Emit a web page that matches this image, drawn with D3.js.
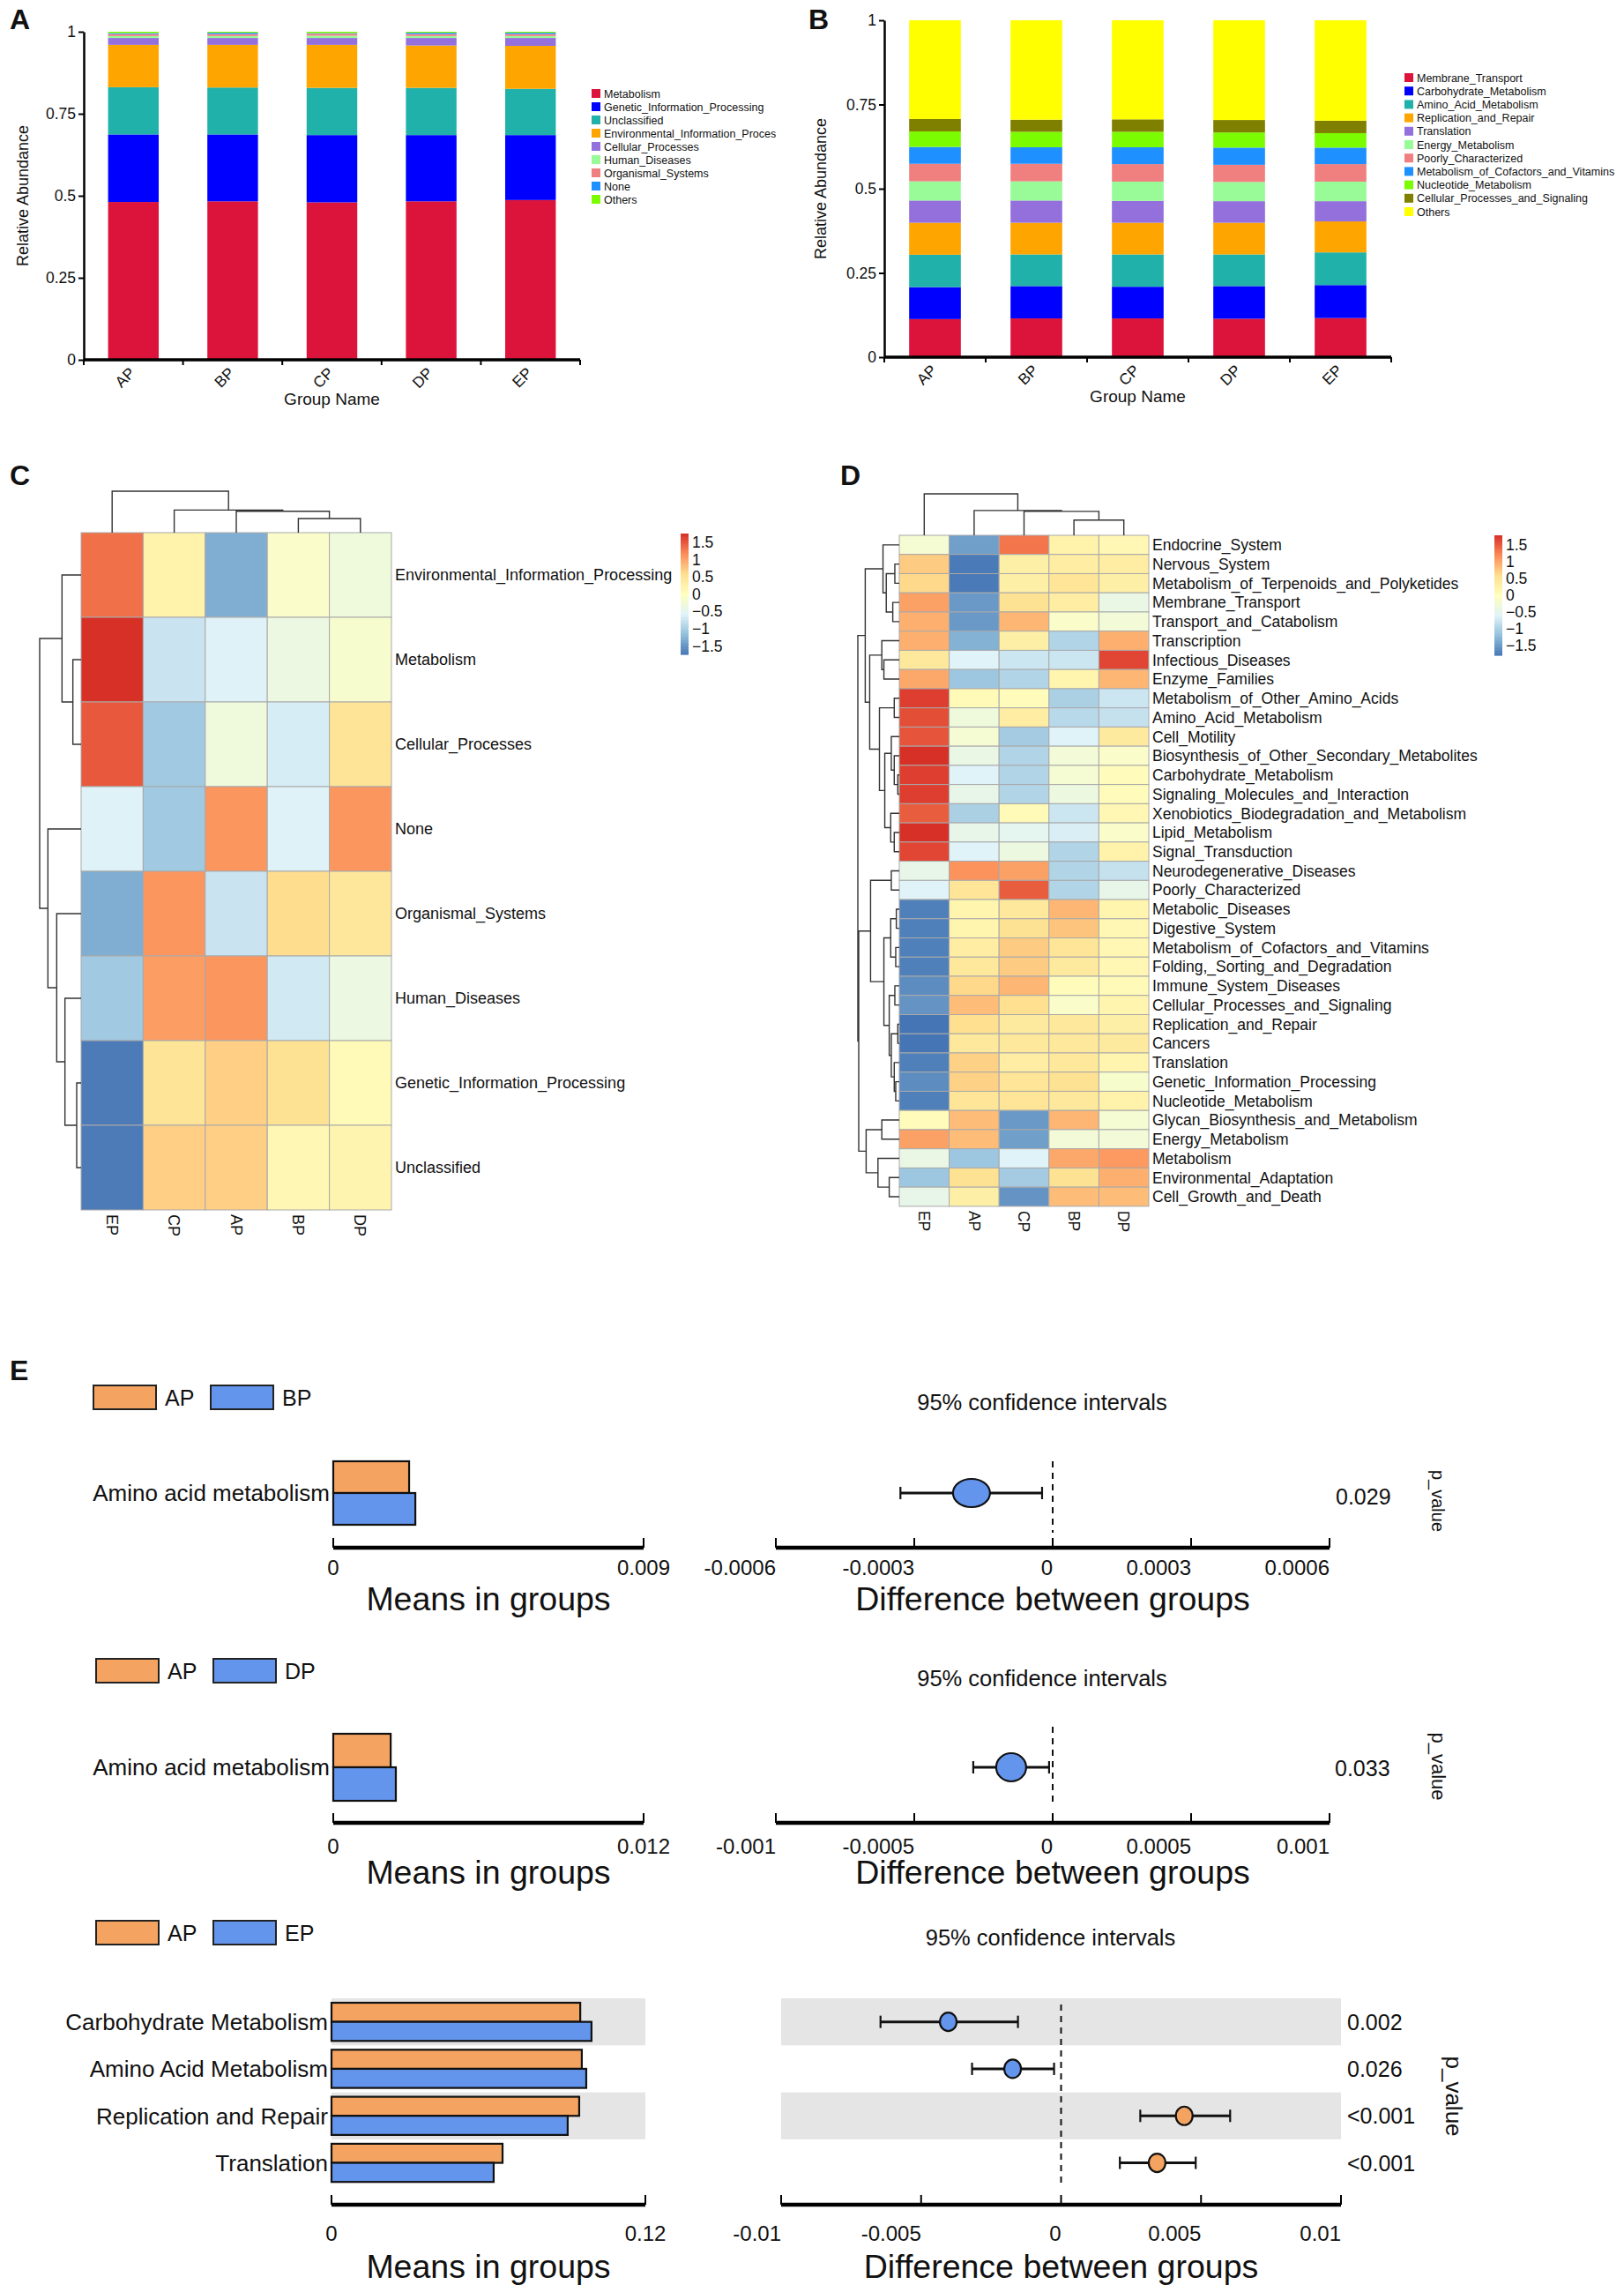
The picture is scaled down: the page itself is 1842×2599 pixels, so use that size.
<!DOCTYPE html>
<html>
<head>
<meta charset="utf-8">
<script src="https://cdn.jsdelivr.net/npm/d3@7"></script>
<style>
body { margin: 0; background: #fff; }
text { font-family: "Liberation Sans", Arial, sans-serif; fill: #111; }
</style>
</head>
<body>
<svg id="fig" width="1842" height="2599"></svg>
<script>
// ---------- data ----------
var groups = ["AP", "BP", "CP", "DP", "EP"];
var yTicks = [0, 0.25, 0.5, 0.75, 1];

// panel A : level 1 KEGG, rows = categories, columns = AP..EP
var catsA = ["Metabolism", "Genetic_Information_Processing", "Unclassified",
  "Environmental_Information_Processing", "Cellular_Processes", "Human_Diseases",
  "Organismal_Systems", "None", "Others"];
var abundA = [
  [0.481, 0.483, 0.480, 0.483, 0.487],
  [0.206, 0.204, 0.205, 0.202, 0.198],
  [0.144, 0.143, 0.144, 0.144, 0.141],
  [0.129, 0.130, 0.131, 0.129, 0.131],
  [0.021, 0.021, 0.021, 0.023, 0.024],
  [0.006, 0.006, 0.007, 0.006, 0.006],
  [0.006, 0.006, 0.006, 0.006, 0.006],
  [0.003, 0.004, 0.002, 0.004, 0.004],
  [0.004, 0.003, 0.004, 0.003, 0.003]
];
var colorsA = ["#DC143C", "#0000FF", "#20B2AA", "#FFA500", "#9370DB", "#98FB98", "#F08080", "#1E90FF", "#7CFC00"];

// panel B : level 2 KEGG
var catsB = ["Membrane_Transport", "Carbohydrate_Metabolism", "Amino_Acid_Metabolism",
  "Replication_and_Repair", "Translation", "Energy_Metabolism", "Poorly_Characterized",
  "Metabolism_of_Cofactors_and_Vitamins", "Nucleotide_Metabolism",
  "Cellular_Processes_and_Signaling", "Others"];
var abundB = [
  [0.113, 0.115, 0.115, 0.114, 0.116],
  [0.095, 0.096, 0.094, 0.097, 0.098],
  [0.096, 0.094, 0.096, 0.094, 0.097],
  [0.095, 0.094, 0.094, 0.094, 0.092],
  [0.066, 0.066, 0.065, 0.064, 0.060],
  [0.057, 0.057, 0.057, 0.057, 0.058],
  [0.052, 0.052, 0.052, 0.051, 0.052],
  [0.050, 0.049, 0.050, 0.051, 0.049],
  [0.046, 0.046, 0.046, 0.045, 0.043],
  [0.037, 0.036, 0.037, 0.037, 0.037],
  [0.293, 0.295, 0.294, 0.296, 0.298]
];
var colorsB = ["#DC143C", "#0000FF", "#20B2AA", "#FFA500", "#9370DB", "#98FB98", "#F08080", "#1E90FF", "#7CFC00", "#808000", "#FFFF00"];

// panel C : heatmap level 1 (row z-scores)
var colsC = ["EP", "CP", "AP", "BP", "DP"];
var rowsC = ["Environmental_Information_Processing", "Metabolism", "Cellular_Processes", "None",
  "Organismal_Systems", "Human_Diseases", "Genetic_Information_Processing", "Unclassified"];
var zC = [
  [1.35, 0.25, -1.3, -0.1, -0.3],
  [1.75, -0.75, -0.6, -0.35, -0.15],
  [1.5, -1.05, -0.3, -0.65, 0.5],
  [-0.6, -1.05, 1.1, -0.6, 1.1],
  [-1.3, 1.1, -0.75, 0.6, 0.45],
  [-1.05, 1.05, 1.1, -0.7, -0.35],
  [-1.7, 0.5, 0.7, 0.55, 0.1],
  [-1.7, 0.7, 0.7, 0.15, 0.2]
];
// dendrograms as [height, left, right], leaves are indices
var rowTreeC = [141, [65, 0, [28, 1, 2]], [113, 3, [83, 4, [55, 5, [15, 6, 7]]]]];
var colTreeC = [132, 0, [72, 1, [68, 2, [45, 3, 4]]]];

// panel D : heatmap level 2
var colsD = ["EP", "AP", "CP", "BP", "DP"];
var rowsD = ["Endocrine_System", "Nervous_System", "Metabolism_of_Terpenoids_and_Polyketides",
  "Membrane_Transport", "Transport_and_Catabolism", "Transcription", "Infectious_Diseases",
  "Enzyme_Families", "Metabolism_of_Other_Amino_Acids", "Amino_Acid_Metabolism", "Cell_Motility",
  "Biosynthesis_of_Other_Secondary_Metabolites", "Carbohydrate_Metabolism",
  "Signaling_Molecules_and_Interaction", "Xenobiotics_Biodegradation_and_Metabolism",
  "Lipid_Metabolism", "Signal_Transduction", "Neurodegenerative_Diseases", "Poorly_Characterized",
  "Metabolic_Diseases", "Digestive_System", "Metabolism_of_Cofactors_and_Vitamins",
  "Folding,_Sorting_and_Degradation", "Immune_System_Diseases", "Cellular_Processes_and_Signaling",
  "Replication_and_Repair", "Cancers", "Translation", "Genetic_Information_Processing",
  "Nucleotide_Metabolism", "Glycan_Biosynthesis_and_Metabolism", "Energy_Metabolism",
  "Metabolism", "Environmental_Adaptation", "Cell_Growth_and_Death"];
var zD = [
  [-0.2, -1.45, 1.35, 0.25, 0.15],
  [0.75, -1.75, 0.3, 0.35, 0.35],
  [0.65, -1.75, 0.3, 0.5, 0.3],
  [1.05, -1.5, 0.55, 0.35, -0.4],
  [0.95, -1.5, 0.9, -0.1, -0.25],
  [0.95, -1.3, 0.3, -0.95, 0.95],
  [0.45, -0.6, -0.75, -0.75, 1.65],
  [1.0, -1.1, -0.95, 0.2, 0.9],
  [1.7, 0.1, 0.05, -1.0, -0.75],
  [1.6, -0.3, 0.35, -0.9, -0.8],
  [1.55, -0.2, -1.05, -0.6, 0.4],
  [1.8, -0.4, -0.95, -0.25, -0.1],
  [1.7, -0.6, -0.95, -0.2, 0.05],
  [1.7, -0.45, -0.95, -0.35, 0.05],
  [1.5, -1.0, 0.1, -0.75, 0.15],
  [1.8, -0.45, -0.5, -0.65, -0.1],
  [1.65, -0.6, -0.35, -0.95, 0.25],
  [-0.45, 1.15, 1.05, -0.95, -0.8],
  [-0.6, 0.5, 1.5, -0.95, -0.45],
  [-1.7, 0.2, 0.45, 0.9, 0.2],
  [-1.7, 0.2, 0.55, 0.8, 0.15],
  [-1.7, 0.35, 0.75, 0.5, 0.15],
  [-1.7, 0.45, 0.75, 0.4, 0.15],
  [-1.6, 0.65, 0.9, 0.05, 0.1],
  [-1.55, 0.85, 0.6, -0.1, 0.2],
  [-1.8, 0.6, 0.4, 0.45, 0.3],
  [-1.8, 0.45, 0.45, 0.45, 0.4],
  [-1.7, 0.7, 0.35, 0.45, 0.2],
  [-1.6, 0.7, 0.5, 0.55, -0.15],
  [-1.7, 0.5, 0.5, 0.45, 0.25],
  [0.05, 0.85, -1.5, 0.9, -0.2],
  [1.05, 0.85, -1.45, -0.25, -0.25],
  [-0.4, -1.1, -0.6, 1.0, 1.1],
  [-1.1, 0.55, -1.05, 0.55, 0.95],
  [-0.45, 0.3, -1.55, 0.85, 0.85]
];
var rowTreeD = [140,
  [115,
    [55, 0, [44, [15, 1, 2], [22, 3, 4]]],
    [100,
      [59, 5, [52, 6, 7]],
      [67, [17, 8, 9], [49, [27, 10, [17, 11, [5, 12, 13]]], [29, 14, [17, 15, 16]]]]]],
  [137,
    [97,
      [27, 17, 18],
      [52,
        [29, [10, 19, 20], [12, 21, 22]],
        [34, [15, 23, 24], [27, [5, 25, 26], [17, 27, [12, 28, 29]]]]]],
    [112, [59, 30, 31], [72, 32, [34, 33, 34]]]]];
var colTreeD = [142, 0, [85, 1, [82, 2, [52, 3, 4]]]];

var heatTicks = [1.5, 1, 0.5, 0, -0.5, -1, -1.5];
var heatPalette = ["#4575B4", "#91BFDB", "#E0F3F8", "#FFFFBF", "#FEE090", "#FC8D59", "#D73027"];

// panel E : STAMP comparisons
var orange = "#F4A460", blue = "#6495ED";
var e1Feat = ["Amino acid metabolism"], e1A = [0.0022], e1B = [0.00238];
var e1Diff = [-0.000176], e1Lo = [-0.00033], e1Hi = [-0.000023], e1P = ["0.029"];
var e1DiffTicks = [-0.0006, -0.0003, 0, 0.0003, 0.0006];

var e2Feat = ["Amino acid metabolism"], e2A = [0.00222], e2B = [0.00242];
var e2Diff = [-0.00015], e2Lo = [-0.000287], e2Hi = [-0.000013], e2P = ["0.033"];
var e2DiffTicks = [-0.001, -0.0005, 0, 0.0005, 0.001];

var e3Feat = ["Carbohydrate Metabolism", "Amino Acid Metabolism", "Replication and Repair", "Translation"];
var e3A = [0.0951, 0.0957, 0.0947, 0.0654];
var e3B = [0.0994, 0.0974, 0.0903, 0.0620];
var e3Diff = [-0.00403, -0.00173, 0.0044, 0.00343];
var e3Lo = [-0.00645, -0.00318, 0.00283, 0.0021];
var e3Hi = [-0.00154, -0.00025, 0.00604, 0.00481];
var e3P = ["0.002", "0.026", "<0.001", "<0.001"];
var e3DiffTicks = [-0.01, -0.005, 0, 0.005, 0.01];

// ---------- drawing ----------
var svg = d3.select("#fig");
svg.append("rect").attr("width", 1842).attr("height", 2599).attr("fill", "#fff");

var letter = function(t, x, y) {
  svg.append("text").attr("x", x).attr("y", y).attr("font-size", 32)
     .attr("font-weight", "bold").text(t);
}
letter("A", 11, 33); letter("B", 917, 33); letter("C", 11, 550); letter("D", 953, 550); letter("E", 11, 1565);

// stacked relative abundance bars
var stackPanel = function(cats, rows, colors, o) {
  var g = svg.append("g");
  var table = groups.map(function(gn, j) {
    var r = { group: gn };
    cats.forEach(function(c, i) { r[c] = rows[i][j]; });
    return r;
  });
  var series = d3.stack().keys(cats)(table);
  var x = d3.scaleBand().domain(groups).range([o.x0, o.x1]).paddingInner(0.49).paddingOuter(0.245);
  var y = d3.scaleLinear().domain([0, 1]).range([o.yb, o.yt]);

  g.selectAll("g.ser").data(series).enter().append("g")
    .attr("fill", function(d, i) { return colors[i]; })
    .selectAll("rect").data(function(d) { return d; }).enter().append("rect")
    .attr("x", function(d) { return x(d.data.group); })
    .attr("width", x.bandwidth())
    .attr("y", function(d) { return y(d[1]); })
    .attr("height", function(d) { return y(d[0]) - y(d[1]); });

  // y axis
  var ya = g.append("g").attr("transform", "translate(" + o.x0 + ",0)")
    .call(d3.axisLeft(y).tickValues(yTicks).tickFormat(d3.format("")).tickSize(6).tickSizeOuter(0));
  ya.select(".domain").attr("stroke-width", 2.5);
  ya.selectAll(".tick line").attr("stroke-width", 2);
  ya.selectAll(".tick text").attr("font-size", 17.5).attr("font-family", "Liberation Sans").attr("fill", "#111");

  // x axis with ticks at band boundaries
  g.append("line").attr("x1", o.x0).attr("x2", o.x1).attr("y1", o.yb).attr("y2", o.yb)
    .attr("stroke", "#000").attr("stroke-width", 3.5);
  g.selectAll("line.xt").data(d3.range(groups.length + 1)).enter().append("line")
    .attr("x1", function(i) { return o.x0 + i * x.step(); })
    .attr("x2", function(i) { return o.x0 + i * x.step(); })
    .attr("y1", o.yb).attr("y2", o.yb + 6).attr("stroke", "#000").attr("stroke-width", 2);
  g.selectAll("text.xl").data(groups).enter().append("text")
    .attr("transform", function(d) {
      return "translate(" + (x(d) + x.bandwidth() / 2 + 3) + "," + (o.yb + 16) + ") rotate(-45)";
    })
    .attr("text-anchor", "end").attr("font-size", 17.5).text(function(d) { return d; });

  g.append("text").attr("x", (o.x0 + o.x1) / 2).attr("y", o.yb + 51)
    .attr("text-anchor", "middle").attr("font-size", 19).text("Group Name");
  g.append("text").attr("transform", "translate(" + o.ylabX + "," + ((o.yb + o.yt) / 2) + ") rotate(-90)")
    .attr("text-anchor", "middle").attr("font-size", 18).text("Relative Abundance");

  // legend
  var lg = g.append("g");
  if (o.clip) {
    svg.append("clipPath").attr("id", o.clip).append("rect")
      .attr("x", o.legX).attr("y", 0).attr("width", o.clipW).attr("height", 480);
    lg.attr("clip-path", "url(#" + o.clip + ")");
  }
  var items = lg.selectAll("g").data(cats).enter().append("g")
    .attr("transform", function(d, i) { return "translate(" + o.legX + "," + (o.legY + i * o.legStep) + ")"; });
  items.append("rect").attr("x", 0).attr("y", -5).attr("width", 10).attr("height", 10)
    .attr("fill", function(d, i) { return colors[i]; });
  items.append("text").attr("x", 14).attr("y", 4.5).attr("font-size", 12.5).text(function(d) { return d; });
}

stackPanel(catsA, abundA, colorsA, { x0: 95, x1: 658, yb: 408, yt: 36, ylabX: 32,
  legX: 671, legY: 106, legStep: 15, clip: "clipA", clipW: 209 });
stackPanel(catsB, abundB, colorsB, { x0: 1003, x1: 1578, yb: 405, yt: 23, ylabX: 937,
  legX: 1593, legY: 88, legStep: 15.2 });

// clustered heatmap with dendrograms and colour key
var heatPanel = function(rows, cols, z, rowTree, colTree, o) {
  var g = svg.append("g");
  var x = d3.scaleBand().domain(d3.range(cols.length)).range([o.x0, o.x0 + o.cw * cols.length]);
  var y = d3.scaleBand().domain(d3.range(rows.length)).range([o.y0, o.y0 + o.rh * rows.length]);
  var dom = d3.range(7).map(function(i) { return -o.ext + i * o.ext / 3; });
  var color = d3.scaleLinear().domain(dom).range(heatPalette).clamp(true);

  z.forEach(function(row, i) {
    g.selectAll(null).data(row).enter().append("rect")
      .attr("x", function(d, j) { return x(j); }).attr("y", y(i))
      .attr("width", x.bandwidth()).attr("height", y.bandwidth())
      .attr("fill", function(d) { return color(d); })
      .attr("stroke", "#a9a9a9").attr("stroke-width", 1);
  });

  g.selectAll("text.rl").data(rows).enter().append("text")
    .attr("x", x.range()[1] + 4).attr("y", function(d, i) { return y(i) + y.bandwidth() / 2; })
    .attr("dy", "0.36em").attr("font-size", o.fs).text(function(d) { return d; });
  g.selectAll("text.cl").data(cols).enter().append("text")
    .attr("transform", function(d, j) {
      return "translate(" + (x(j) + x.bandwidth() / 2) + "," + (y.range()[1] + 5) + ") rotate(90)";
    })
    .attr("dy", "0.36em").attr("font-size", o.fs).text(function(d) { return d; });

  // row dendrogram (grows to the left)
  var hr = d3.scaleLinear().domain([0, rowTree[0]]).range([o.x0, o.x0 - o.dw]);
  var path = d3.path();
  var walkRow = function(n) {
    if (typeof n === "number") return { p: y(n) + y.bandwidth() / 2, h: 0 };
    var a = walkRow(n[1]), b = walkRow(n[2]), xn = hr(n[0]);
    path.moveTo(hr(a.h), a.p); path.lineTo(xn, a.p); path.lineTo(xn, b.p); path.lineTo(hr(b.h), b.p);
    return { p: (a.p + b.p) / 2, h: n[0] };
  };
  walkRow(rowTree);
  // column dendrogram (grows upwards)
  var hc = d3.scaleLinear().domain([0, colTree[0]]).range([o.y0, o.y0 - o.dh]);
  var walkCol = function(n) {
    if (typeof n === "number") return { p: x(n) + x.bandwidth() / 2, h: 0 };
    var a = walkCol(n[1]), b = walkCol(n[2]), yn = hc(n[0]);
    path.moveTo(a.p, hc(a.h)); path.lineTo(a.p, yn); path.lineTo(b.p, yn); path.lineTo(b.p, hc(b.h));
    return { p: (a.p + b.p) / 2, h: n[0] };
  };
  walkCol(colTree);
  g.append("path").attr("d", path.toString()).attr("fill", "none")
    .attr("stroke", "#333").attr("stroke-width", 1.4);

  // colour key
  var ky = d3.scaleLinear().domain([-o.ext, o.ext]).range([o.ky1, o.ky0]);
  var steps = d3.range(100).map(function(i) { return -o.ext + (i + 0.5) * 2 * o.ext / 100; });
  g.selectAll("rect.key").data(steps).enter().append("rect")
    .attr("x", o.kx).attr("width", o.kw)
    .attr("y", function(d) { return ky(d + o.ext / 100); })
    .attr("height", (o.ky1 - o.ky0) / 100 + 0.6)
    .attr("fill", function(d) { return color(d); });
  g.selectAll("text.key").data(heatTicks).enter().append("text")
    .attr("x", o.kx + o.kw + 4).attr("y", function(d) { return ky(d); })
    .attr("dy", "0.36em").attr("font-size", 17.5).text(d3.format(""));
}

heatPanel(rowsC, colsC, zC, rowTreeC, colTreeC, { x0: 92, y0: 604, cw: 70.4, rh: 96,
  dw: 47, dh: 47, ext: 1.75, fs: 18, kx: 772, kw: 9, ky0: 605, ky1: 742 });
heatPanel(rowsD, colsD, zD, rowTreeD, colTreeD, { x0: 1020, y0: 607, cw: 56.6, rh: 21.74,
  dw: 47, dh: 47, ext: 1.79, fs: 17.5, kx: 1695, kw: 9, ky0: 607, ky1: 743 });

// extended error bar plot
var ePanel = function(feat, mA, mB, diff, lo, hi, pv, o) {
  var g = svg.append("g");
  var mx = d3.scaleLinear().domain([0, o.meanMax]).range(o.mRange);
  var dx = d3.scaleLinear().domain([o.dTicks[0], o.dTicks[o.dTicks.length - 1]]).range(o.dRange);
  var yr = d3.scaleBand().domain(d3.range(feat.length)).range([o.rowTop, o.rowTop + o.rowH * feat.length]);
  var yEnd = yr.range()[1];

  // legend
  [[orange, "AP"], [blue, o.nameB]].forEach(function(it, i) {
    g.append("rect").attr("x", o.legX + i * 133).attr("y", o.legY).attr("width", 71).attr("height", 27)
      .attr("fill", it[0]).attr("stroke", "#222").attr("stroke-width", 2);
    g.append("text").attr("x", o.legX + i * 133 + 81).attr("y", o.legY + 23).attr("font-size", 25).text(it[1]);
  });
  g.append("text").attr("x", (o.dRange[0] + o.dRange[1]) / 2 - 12).attr("y", o.titleY)
    .attr("text-anchor", "middle").attr("font-size", 25.5).text("95% confidence intervals");

  // alternating grey bands
  if (o.bands) {
    feat.forEach(function(f, i) {
      if (i % 2) return;
      [o.mRange, o.dRange].forEach(function(r) {
        g.append("rect").attr("x", r[0]).attr("y", yr(i)).attr("width", r[1] - r[0])
          .attr("height", yr.bandwidth()).attr("fill", "#E5E5E5");
      });
    });
  }

  // mean bars
  var bh = (yr.bandwidth() - 2 * o.pad) / 2;
  feat.forEach(function(f, i) {
    [[mA[i], orange], [mB[i], blue]].forEach(function(b, k) {
      g.append("rect").attr("x", mx(0)).attr("y", yr(i) + o.pad + k * bh)
        .attr("width", mx(b[0]) - mx(0)).attr("height", bh)
        .attr("fill", b[1]).attr("stroke", "#111").attr("stroke-width", 2.2);
    });
    g.append("text").attr("x", mx(0) - 4).attr("y", yr(i) + yr.bandwidth() / 2)
      .attr("dy", "0.36em").attr("text-anchor", "end").attr("font-size", 26).text(f);
  });

  // zero line
  g.append("line").attr("x1", dx(0)).attr("x2", dx(0))
    .attr("y1", o.rowTop + o.dash[0]).attr("y2", yEnd + o.dash[1])
    .attr("stroke", "#111").attr("stroke-width", 2).attr("stroke-dasharray", "7,6");

  // differences with CI
  feat.forEach(function(f, i) {
    var cy = yr(i) + yr.bandwidth() / 2;
    g.append("line").attr("x1", dx(lo[i])).attr("x2", dx(hi[i])).attr("y1", cy).attr("y2", cy)
      .attr("stroke", "#111").attr("stroke-width", 3);
    [lo[i], hi[i]].forEach(function(v) {
      g.append("line").attr("x1", dx(v)).attr("x2", dx(v)).attr("y1", cy - o.cap).attr("y2", cy + o.cap)
        .attr("stroke", "#111").attr("stroke-width", 2.2);
    });
    g.append("ellipse").attr("cx", dx(diff[i])).attr("cy", cy).attr("rx", o.rx).attr("ry", o.ry)
      .attr("fill", diff[i] < 0 ? blue : orange).attr("stroke", "#111").attr("stroke-width", 2.2);
    g.append("text").attr("x", o.pX).attr("y", cy + o.pDy).attr("dy", "0.36em")
      .attr("font-size", 25).text(pv[i]);
  });
  g.append("text").attr("transform", "translate(" + o.pLabX + "," + o.pLabY + ") rotate(90)")
    .attr("text-anchor", "middle").attr("font-size", o.pLabFs).text("p_value");

  // axes: thick base line with short ticks pointing up
  var axis = function(scale, ticks, anchor) {
    var r = scale.range();
    g.append("line").attr("x1", r[0]).attr("x2", r[1]).attr("y1", o.axisY).attr("y2", o.axisY)
      .attr("stroke", "#000").attr("stroke-width", 4.5);
    g.selectAll(null).data(ticks).enter().append("line")
      .attr("x1", scale).attr("x2", scale).attr("y1", o.axisY - 11).attr("y2", o.axisY)
      .attr("stroke", "#000").attr("stroke-width", 2);
    g.selectAll(null).data(ticks).enter().append("text")
      .attr("x", scale).attr("y", o.tickY).attr("text-anchor", anchor)
      .attr("font-size", 24).text(function(d) { return String(d); });
  };
  axis(mx, [0, o.meanMax], "middle");
  axis(dx, o.dTicks, "end");
  g.append("text").attr("x", (o.mRange[0] + o.mRange[1]) / 2).attr("y", o.labY)
    .attr("text-anchor", "middle").attr("font-size", 37.5).text("Means in groups");
  g.append("text").attr("x", (o.dRange[0] + o.dRange[1]) / 2).attr("y", o.labY)
    .attr("text-anchor", "middle").attr("font-size", 37.5).text("Difference between groups");
}

ePanel(e1Feat, e1A, e1B, e1Diff, e1Lo, e1Hi, e1P, { nameB: "BP", meanMax: 0.009,
  mRange: [378, 730], dRange: [880, 1508], dTicks: e1DiffTicks, rowTop: 1657, rowH: 72, pad: 0,
  legX: 106, legY: 1571, titleY: 1599, axisY: 1755, tickY: 1786, labY: 1826,
  dash: [0, 9], cap: 7, rx: 21, ry: 16, pX: 1515, pDy: 4,
  pLabX: 1624, pLabY: 1702, pLabFs: 20 });
ePanel(e2Feat, e2A, e2B, e2Diff, e2Lo, e2Hi, e2P, { nameB: "DP", meanMax: 0.012,
  mRange: [378, 730], dRange: [880, 1508], dTicks: e2DiffTicks, rowTop: 1966, rowH: 76, pad: 0,
  legX: 109, legY: 1881, titleY: 1912, axisY: 2067, tickY: 2102, labY: 2136,
  dash: [-8, 1], cap: 7, rx: 17, ry: 16, pX: 1514, pDy: 1,
  pLabX: 1624, pLabY: 2003, pLabFs: 22 });
ePanel(e3Feat, e3A, e3B, e3Diff, e3Lo, e3Hi, e3P, { nameB: "EP", meanMax: 0.12, bands: true,
  mRange: [376, 732], dRange: [886, 1521], dTicks: e3DiffTicks, rowTop: 2266, rowH: 53.3, pad: 5,
  legX: 109, legY: 2178, titleY: 2206, axisY: 2500, tickY: 2541, labY: 2583,
  dash: [7, 1], cap: 7, rx: 9.5, ry: 10.5, pX: 1528, pDy: 0,
  pLabX: 1640, pLabY: 2377, pLabFs: 26 });
</script>
</body>
</html>
